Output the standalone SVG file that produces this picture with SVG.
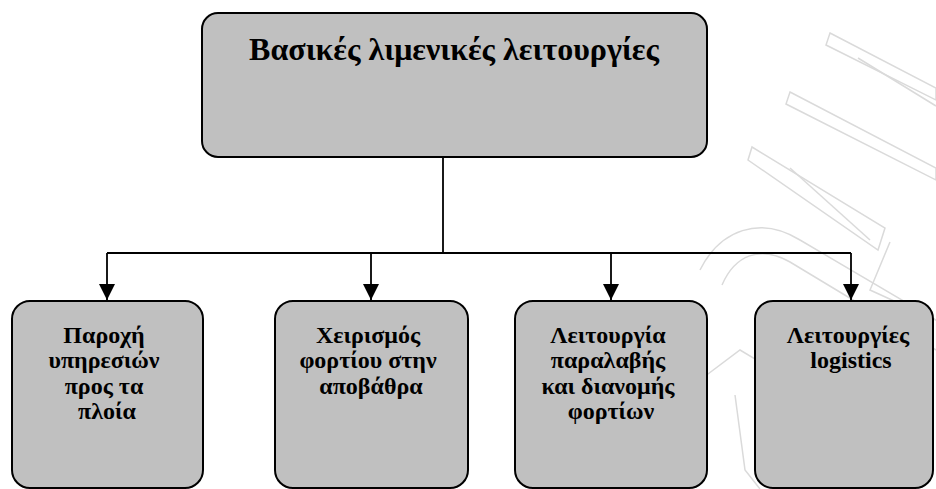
<svg xmlns="http://www.w3.org/2000/svg" width="936" height="489" viewBox="0 0 936 489">
  <style>
    .box { fill: #c0c0c0; stroke: #000; stroke-width: 2; }
    .wire { fill: none; stroke: #000; stroke-width: 1.8; }
    .lbl { font-family: 'Liberation Serif', 'DejaVu Serif', 'Times New Roman', serif; font-weight: 700; fill: #000; text-anchor: middle; }
    .title { font-size: 32px; }
    .sub { font-size: 24px; }
    .wm { fill: none; stroke: #dadada; stroke-width: 1.5; }
  </style>
  <defs>
    <marker id="arrow" viewBox="0 0 10 10" refX="10" refY="5" markerWidth="16" markerHeight="16" markerUnits="userSpaceOnUse" orient="auto">
      <path d="M0,0 L10,5 L0,10 Z" fill="#000"/>
    </marker>
  </defs>

  <rect width="936" height="489" fill="#fff"/>

  <!-- faint background emblem -->
  <g id="emblem">
    <path class="wm" d="M830,33 L936,88 L936,100 L826,45 Z"/>
    <path class="wm" d="M858,58 L936,106"/>
    <path class="wm" d="M790,92 L936,168 L936,180 L786,104 Z"/>
    <path class="wm" d="M752,147 L885,228 L878,250 L748,160 Z"/>
    <path class="wm" d="M790,168 L870,240"/>
    <path class="wm" d="M700,270 C720,230 760,215 800,240 L936,320"/>
    <path class="wm" d="M722,285 C735,255 760,245 790,262 L936,350"/>
    <path class="wm" d="M890,242 L870,290 L936,320"/>
    <path class="wm" d="M700,380 L740,350 L790,380"/>
    <path class="wm" d="M735,395 L745,470 L760,489"/>
  </g>

  <g id="connectors">
    <path class="wire" d="M443,157 V253"/>
    <path class="wire" d="M107,253 H851"/>
    <path class="wire" d="M107,253 V300" marker-end="url(#arrow)"/>
    <path class="wire" d="M371,253 V300" marker-end="url(#arrow)"/>
    <path class="wire" d="M611,253 V300" marker-end="url(#arrow)"/>
    <path class="wire" d="M851,253 V300" marker-end="url(#arrow)"/>
  </g>

  <g id="core-functions">
    <rect class="box" x="202" y="13" width="505" height="144" rx="16"/>
    <text class="lbl title" x="454" y="60">Βασικές λιμενικές λειτουργίες</text>
  </g>

  <g id="ship-services">
    <rect class="box" x="12" y="301" width="191" height="187" rx="18"/>
    <text class="lbl sub" x="107" y="343">
      <tspan x="107">Παροχή</tspan>
      <tspan x="107" dy="25.3">υπηρεσιών</tspan>
      <tspan x="107" dy="25.3">προς τα</tspan>
      <tspan x="107" dy="25.3">πλοία</tspan>
    </text>
  </g>

  <g id="quay-handling">
    <rect class="box" x="275" y="301" width="193" height="187" rx="18"/>
    <text class="lbl sub" x="371" y="343">
      <tspan x="371">Χειρισμός</tspan>
      <tspan x="371" dy="25.3">φορτίου στην</tspan>
      <tspan x="371" dy="25.3">αποβάθρα</tspan>
    </text>
  </g>

  <g id="receipt-distribution">
    <rect class="box" x="515" y="301" width="192" height="187" rx="18"/>
    <text class="lbl sub" x="611" y="343">
      <tspan x="611">Λειτουργία</tspan>
      <tspan x="611" dy="25.3">παραλαβής</tspan>
      <tspan x="611" dy="25.3">και διανομής</tspan>
      <tspan x="611" dy="25.3">φορτίων</tspan>
    </text>
  </g>

  <g id="logistics">
    <rect class="box" x="755" y="301" width="178" height="187" rx="18"/>
    <text class="lbl sub" x="851" y="343">
      <tspan x="851">Λειτουργίες</tspan>
      <tspan x="851" dy="25.3">logistics</tspan>
    </text>
  </g>
</svg>
